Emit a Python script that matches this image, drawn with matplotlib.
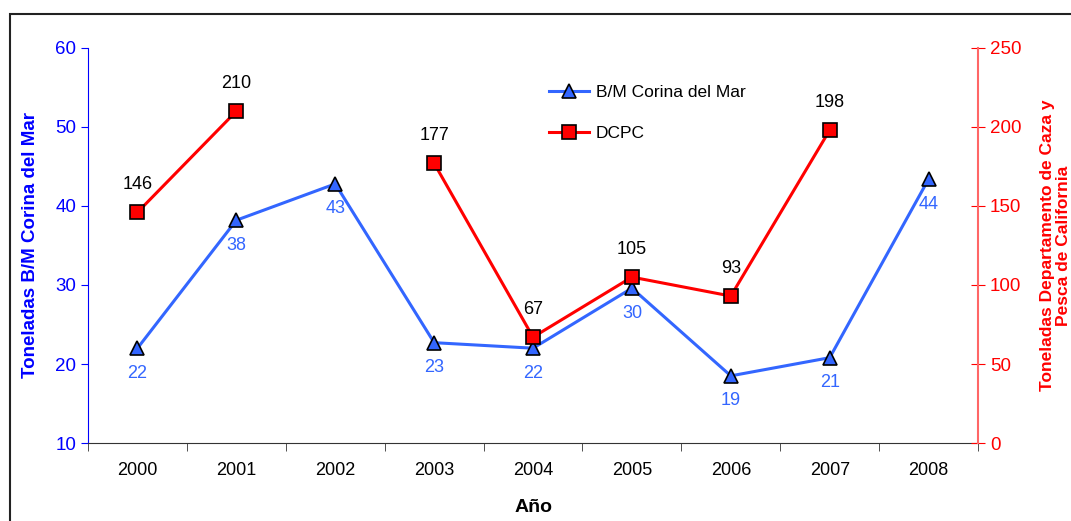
import numpy as np
import matplotlib.pyplot as plt
from matplotlib.patches import Rectangle

plt.rcParams['font.family'] = ['Liberation Sans', 'DejaVu Sans']

years = ['2000', '2001', '2002', '2003', '2004', '2005', '2006', '2007', '2008']
corina = [22.0, 38.2, 42.8, 22.7, 22.0, 29.6, 18.5, 20.8, 43.4]
corina_labels = ['22', '38', '43', '23', '22', '30', '19', '21', '44']
dcpc = [146, 210, np.nan, 177, 67, 105, 93, 198, np.nan]

blue = '#3366FF'
red = '#FF0000'

fig = plt.figure(figsize=(10.71, 5.21), dpi=100)
ax = fig.add_axes([0.0822, 0.1497, 0.831, 0.7582])
ax2 = ax.twinx()

x = np.arange(len(years))

ax.plot(x, corina, color=blue, lw=2.2, marker='^', ms=9.5,
        mfc=blue, mec='black', mew=1.2, label='B/M Corina del Mar', zorder=3)
ax2.plot(x, dcpc, color=red, lw=2.2, marker='s', ms=9.5,
         mfc=red, mec='black', mew=1.2, label='DCPC', zorder=3)

for xi, v, s in zip(x, corina, corina_labels):
    ax.annotate(s, (xi, v), xytext=(0, -18), textcoords='offset points',
                ha='center', va='center', color=blue, fontsize=13)
for xi, v in zip(x, dcpc):
    if np.isnan(v):
        continue
    ax2.annotate(f'{v:.0f}', (xi, v), xytext=(0, 20), textcoords='offset points',
                 ha='center', va='center', color='black', fontsize=13)

ax.set_xlim(-0.5, len(years) - 0.5)
ax.set_ylim(10, 60)
ax.set_yticks([10, 20, 30, 40, 50, 60])
ax2.set_ylim(0, 250)
ax2.set_yticks([0, 50, 100, 150, 200, 250])

# category labels centred, tick marks on the boundaries
ax.set_xticks(x)
ax.set_xticklabels(years, fontsize=13)
ax.set_xticks(np.arange(-0.5, len(years)), minor=True)
ax.tick_params(axis='x', which='major', length=0, pad=14)
ax.tick_params(axis='x', which='minor', length=6, color='#333333', direction='out')

ax.tick_params(axis='y', colors='#0000FF', labelsize=13.5, length=5, direction='out')
ax2.tick_params(axis='y', colors=red, labelsize=13.5, length=10, direction='inout')

for a in (ax, ax2):
    a.spines['top'].set_visible(False)
ax.spines['left'].set_color('#0000FF')
ax.spines['right'].set_visible(False)
ax2.spines['left'].set_visible(False)
ax2.spines['right'].set_color('#FF6666')
ax2.spines['right'].set_linewidth(1.5)
ax.spines['bottom'].set_color('#333333')
ax2.spines['bottom'].set_visible(False)

ax.set_ylabel('Toneladas B/M Corina del Mar', color='#0000FF',
              fontsize=13.5, fontweight='bold', labelpad=12)
ax2.set_ylabel('Toneladas Departamento de Caza y\nPesca de California', color=red,
               fontsize=12.5, fontweight='bold', rotation=90,
               va='center', linespacing=1.15)
ax2.yaxis.set_label_coords(1.087, 0.5)
ax.set_xlabel('Año', fontsize=14, fontweight='bold', labelpad=14)

h1, l1 = ax.get_legend_handles_labels()
h2, l2 = ax2.get_legend_handles_labels()
ax.legend(h1 + h2, l1 + l2, loc='upper left', bbox_to_anchor=(0.5, 0.947),
          frameon=False, fontsize=12.5, handlelength=2.3, labelspacing=1.5,
          handletextpad=0.4)

fig.patches.append(Rectangle((10 / 1071, -0.2), 1.2, 1.2 - 14 / 521,
                             transform=fig.transFigure, fill=False,
                             edgecolor='#222222', lw=1.5))

fig.savefig('out.png', dpi=100)
